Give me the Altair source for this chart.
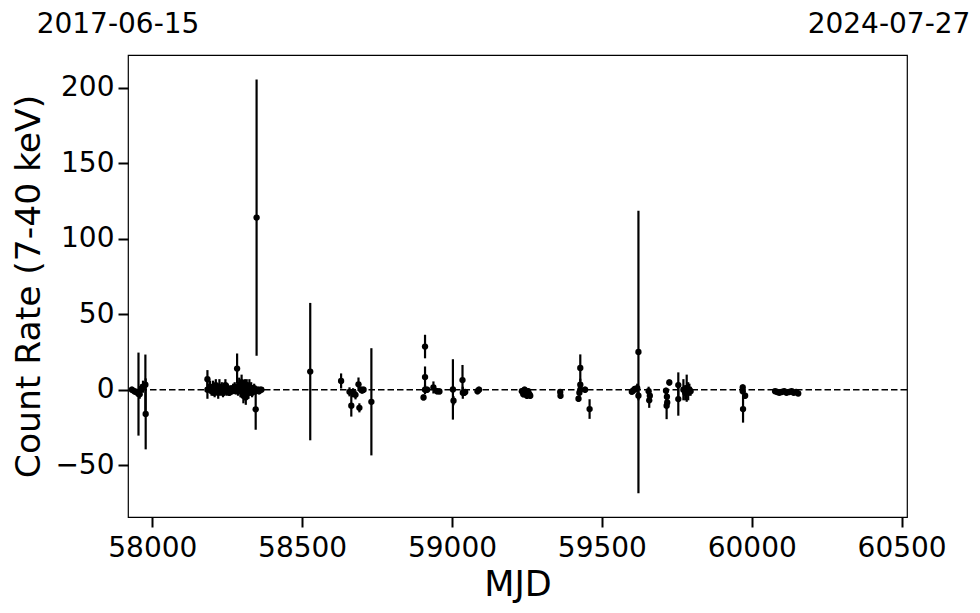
import altair as alt
import pandas as pd

mjd = [57932, 57940, 57946, 57954, 57958, 57962, 57969, 57977, 57978,
       58184, 58184,
       58193, 58198, 58203, 58208, 58212, 58216, 58220, 58224, 58228, 58232,
       58236, 58240, 58244, 58248, 58252, 58257, 58262, 58266, 58270, 58275,
       58279, 58283, 58286, 58290, 58294, 58298, 58301, 58304, 58306, 58309,
       58312, 58315, 58318, 58321, 58324, 58327, 58330, 58333, 58336, 58340,
       58344, 58345, 58348, 58352, 58356, 58360, 58364,
       58527,
       58630, 58658, 58664, 58670, 58678, 58688, 58691, 58697, 58700, 58705, 58731,
       58905, 58910, 58910, 58910, 58917, 58938, 58950, 58958,
       59003, 59005, 59035, 59036, 59041, 59044, 59085, 59090,
       59233, 59238, 59242, 59246, 59250, 59254, 59258, 59261,
       59361, 59362, 59422, 59425, 59428, 59428, 59428, 59444, 59459,
       59600, 59605, 59610, 59618, 59622, 59622, 59656, 59658, 59660,
       59714, 59716, 59717, 59718, 59725, 59755, 59755,
       59772, 59778, 59783, 59788, 59792, 59796,
       59970, 59970, 59971, 59978,
       60078, 60085, 60092, 60100, 60108, 60116, 60125, 60133, 60140, 60148, 60155]
rate = [0, -1, -1.5, -2.9, -3, 0.5, 2, 3.3, -16,
        7, 0,
        2, -1, 1, -2, 3, 0, -2, 2, -1, 1,
        -2, 0, 3, -1, 1, -2, 0, -1, 1, 2,
        -1, 14, 0, 3, -1, 5, 2, -4, -3, 1,
        -5, 3, 0, -2, 2, -1, 1, -2, 0, 1,
        -1, -13, 114, 0, -1, 0, 0,
        12,
        5.8, -1.4, -10.6, -2, -3.4, 3.6, -12, 0, -0.5, 0, -8,
        -5.1, 28.6, 8.4, 0, 0, 1.5, -1, -1.1,
        0.2, -7.3, 6.4, -2, -2, -1.5, -1, 0,
        -1, -3, 0, -2, -4, -1, -3, -4,
        -1.5, -4, -6, -2, 14.4, 3.3, 0, 0, -12.8,
        -1.3, -0.5, 0.5, 1, 25, -4, -1, -7, -4,
        -0.7, -10.6, -4.6, -8.4, 4.8, 3.1, -6.2,
        0, -2, 1, -1, 0, -1,
        1.5, -1, -12.8, -4,
        -1, -1.5, -2, -1.5, -1, -2, -1.5, -1, -2, -1.5, -2.5]
err = [2, 2, 2, 27.5, 3, 3, 4, 20, 23.5,
       6, 6,
       4, 3, 5, 3, 4, 3, 4, 5, 3, 4,
       3, 4, 4, 3, 3, 2, 3, 2, 3, 3,
       2, 10, 4, 5, 4, 5, 4, 5, 4, 6,
       5, 4, 5, 4, 5, 3, 4, 3, 3, 3,
       2, 13.5, 91.5, 2, 2, 1.5, 1,
       45.5,
       5, 3, 7.2, 3, 3, 4.5, 3, 2, 2, 2, 35.5,
       2, 7.8, 7, 3, 2, 4, 2, 2,
       20, 3, 10, 4, 2, 2, 2, 2,
       2, 2, 2, 2, 2, 2, 2, 2,
       2, 2, 2, 2, 9, 4, 2, 2, 6.5,
       2, 2, 2, 3, 93.5, 3, 3, 5, 4,
       2, 8.9, 4, 3, 2, 8.4, 11,
       7, 5, 9, 6, 4, 3,
       2, 2, 9, 2,
       1, 1, 1, 1, 1, 1, 1, 1, 1, 1, 1.5]

edge_mjd = [57919, 60518]
edge_labels = ["2017-06-15", "2024-07-27"]
x_ticks = [58000, 58500, 59000, 59500, 60000, 60500]
y_ticks = [-50, 0, 50, 100, 150, 200]

df = pd.DataFrame({"mjd": mjd, "rate": rate, "err": err})
edges = pd.DataFrame({"mjd": edge_mjd, "label": edge_labels})

FONT = "DejaVu Sans"
xscale = alt.Scale(domain=[57919, 60518], nice=False, zero=False)
yscale = alt.Scale(domain=[-84.3, 221.7], nice=False, zero=False)

xaxis = alt.Axis(title="MJD", values=x_ticks, format="d", grid=False, domain=False,
                 tickSize=10, tickWidth=2, tickColor="black",
                 labelFont=FONT, labelFontSize=28, labelColor="black", labelPadding=7,
                 titleFont=FONT, titleFontSize=35, titleFontWeight="normal",
                 titleColor="black", titlePadding=5)
yaxis = alt.Axis(title="Count Rate (7-40 keV)", values=y_ticks, format="d", grid=False,
                 domain=False, tickSize=10, tickWidth=2, tickColor="black",
                 labelFont=FONT, labelFontSize=28, labelColor="black", labelPadding=4,
                 titleFont=FONT, titleFontSize=34.5, titleFontWeight="normal",
                 titleColor="black", titlePadding=8)

base = alt.Chart(df).transform_calculate(
    lo="datum.rate - datum.err", hi="datum.rate + datum.err"
)

bars = base.mark_rule(color="black", strokeWidth=2.2).encode(
    x=alt.X("mjd:Q", scale=xscale, axis=xaxis),
    y=alt.Y("lo:Q", scale=yscale, axis=yaxis),
    y2="hi:Q",
)

zero = alt.Chart(pd.DataFrame({"z": [0]})).mark_rule(
    color="black", strokeWidth=1.5, strokeDash=[6.5, 3]
).encode(y=alt.Y("z:Q", scale=yscale))

points = base.mark_circle(color="black", opacity=1, size=40).encode(
    x=alt.X("mjd:Q", scale=xscale),
    y=alt.Y("rate:Q", scale=yscale),
)

left_lbl = alt.Chart(edges[edges.mjd == 57919]).mark_text(
    font=FONT, fontSize=28, color="black", align="center", baseline="alphabetic",
    dx=-10, clip=False
).encode(x=alt.X("mjd:Q", scale=xscale), y=alt.value(-22), text="label:N")

right_lbl = alt.Chart(edges[edges.mjd == 60518]).mark_text(
    font=FONT, fontSize=28, color="black", align="center", baseline="alphabetic",
    dx=-18, clip=False
).encode(x=alt.X("mjd:Q", scale=xscale), y=alt.value(-22), text="label:N")

chart = alt.layer(zero, bars, points, left_lbl, right_lbl).properties(
    width=779, height=462,
    autosize=alt.AutoSizeParams(type="none"),
    padding={"left": 120, "top": 47, "right": 65, "bottom": 88},
).configure_view(stroke="black", strokeWidth=1.2)

chart.save("out.html", embed_options={"renderer": "svg", "actions": False})
